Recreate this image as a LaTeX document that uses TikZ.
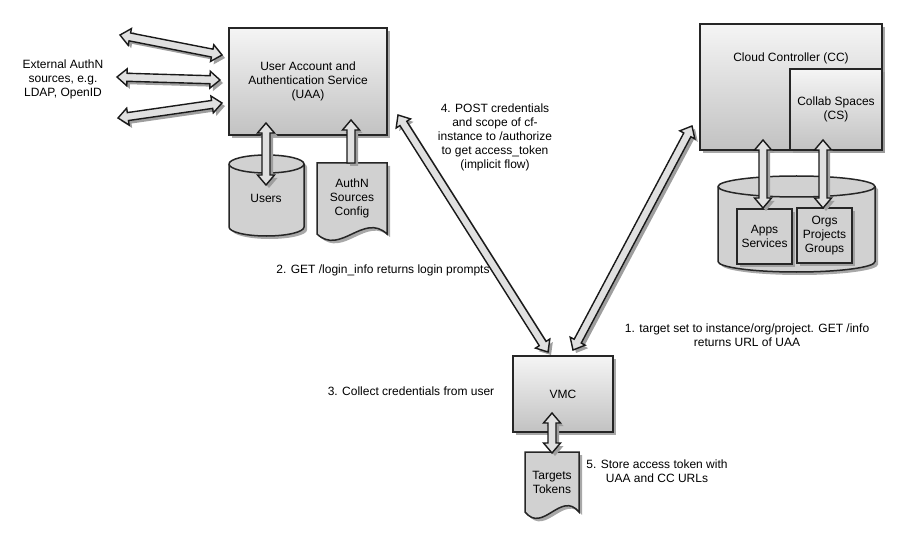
\documentclass[tikz,border=0pt]{standalone}
\usepackage{fontspec}
\setmainfont{Liberation Sans}
\usetikzlibrary{calc,shadows}

\newcommand\arHL{10pt}
\newcommand\arHW{8.5pt}
\newcommand\arSW{4pt}

% double-headed block arrow polygon: style, from, to, offset
\newcommand\dblpoly[4]{%
  \path[#1] let \p1=($(#3)-(#2)$), \n1={atan2(\y1,\x1)}, \p2=($(#2)+#4$), \p3=($(#3)+#4$) in
    (\p2) -- ($(\p2)+(\n1:\arHL)+(\n1+90:\arHW)$) -- ($(\p2)+(\n1:\arHL)+(\n1+90:\arSW)$)
    -- ($(\p3)+(\n1+180:\arHL)+(\n1+90:\arSW)$) -- ($(\p3)+(\n1+180:\arHL)+(\n1+90:\arHW)$) -- (\p3)
    -- ($(\p3)+(\n1+180:\arHL)+(\n1-90:\arHW)$) -- ($(\p3)+(\n1+180:\arHL)+(\n1-90:\arSW)$)
    -- ($(\p2)+(\n1:\arHL)+(\n1-90:\arSW)$) -- ($(\p2)+(\n1:\arHL)+(\n1-90:\arHW)$) -- cycle;}
% single-headed block arrow polygon: tip at #3
\newcommand\sglpoly[4]{%
  \path[#1] let \p1=($(#3)-(#2)$), \n1={atan2(\y1,\x1)}, \p2=($(#2)+#4$), \p3=($(#3)+#4$) in
    ($(\p2)+(\n1+90:\arSW)$)
    -- ($(\p3)+(\n1+180:\arHL)+(\n1+90:\arSW)$) -- ($(\p3)+(\n1+180:\arHL)+(\n1+90:\arHW)$) -- (\p3)
    -- ($(\p3)+(\n1+180:\arHL)+(\n1-90:\arHW)$) -- ($(\p3)+(\n1+180:\arHL)+(\n1-90:\arSW)$)
    -- ($(\p2)+(\n1-90:\arSW)$) -- cycle;}
\newcommand\dblarrow[2]{\dblpoly{ashadow}{#1}{#2}{(3pt,-3pt)}\dblpoly{abody}{#1}{#2}{(0pt,0pt)}}
\newcommand\sglarrow[2]{\sglpoly{ashadow}{#1}{#2}{(3pt,-3pt)}\sglpoly{abody}{#1}{#2}{(0pt,0pt)}}

\tikzset{
  myshadow/.style={drop shadow={shadow xshift=3pt, shadow yshift=-3pt, fill=black!40, opacity=0.85}},
  box/.style={draw=black!85, line width=1.5pt, top color=black!4, bottom color=black!24,
    myshadow, inner sep=0pt, align=center},
  flatbox/.style={draw=black!85, line width=1.5pt, fill=black!18, myshadow, inner sep=0pt, align=center},
  shapefill/.style={draw=black!85, line width=1.5pt, fill=black!18, myshadow},
  shapeline/.style={draw=black!85, line width=1.5pt},
  txt/.style={align=center, inner sep=0pt},
  abody/.style={draw=black!90, line width=1.4pt, fill=black!12, line join=miter},
  ashadow/.style={fill=black!38},
}

\begin{document}
\begin{tikzpicture}[x=1pt,y=-1pt, font=\fontsize{12}{14}\selectfont]
\useasboundingbox (0,0) rectangle (901,537);

% ---------- UAA side ----------
\node[box, minimum width=158pt, minimum height=107pt] (uaa) at (308,81.5)
  {User Account and\\Authentication Service\\(UAA)};

% Users cylinder
\path[shapefill] (229,164) -- (229,227) arc[start angle=180,end angle=0,x radius=37.5,y radius=9]
  -- (304,164) arc[start angle=0,end angle=-180,x radius=37.5,y radius=9] -- cycle;
\path[shapeline] (229,164) arc[start angle=180,end angle=0,x radius=37.5,y radius=9];
\node[txt] (users) at (266,198) {Users};

% AuthN Sources Config document
\path[shapefill] (317,163) -- (387,163) -- (387,234)
  .. controls (363.7,212) and (340.3,256) .. (317,234) -- cycle;
\node[txt] (authn) at (352,198) {AuthN\\Sources\\Config};

\node[txt] (ext) at (63,79) {External AuthN\\sources, e.g.\\LDAP, OpenID};

% ---------- CC side ----------
\node[box, minimum width=182pt, minimum height=126pt] (cc) at (791,87) {};
\node[txt] (cctxt) at (791,58) {Cloud Controller (CC)};
\node[box, minimum width=92pt, minimum height=81pt] (cs) at (836,109.5) {Collab Spaces\\(CS)};

% data cylinder
\path[shapefill] (718,186.5) -- (718,261.5) arc[start angle=180,end angle=0,x radius=78.5,y radius=10.5]
  -- (875,186.5) arc[start angle=0,end angle=-180,x radius=78.5,y radius=10.5] -- cycle;
\path[shapeline] (718,186.5) arc[start angle=180,end angle=0,x radius=78.5,y radius=10.5];

\node[flatbox, minimum width=55pt, minimum height=55pt] (apps) at (764.5,236.5) {Apps\\Services};
\node[flatbox, minimum width=55pt, minimum height=55pt] (orgs) at (824.5,235.5) {Orgs\\Projects\\Groups};

% ---------- VMC ----------
\node[box, minimum width=100pt, minimum height=76pt] (vmc) at (563,394) {VMC};
\path[shapefill] (525,452) -- (579,452) -- (579,512)
  .. controls (561,490) and (543,534) .. (525,512) -- cycle;
\node[txt] (targets) at (552,482) {Targets\\Tokens};

% ---------- labels ----------
\node[txt] (t4) at (495,137) {4. POST credentials\\and scope of cf-\\instance to /authorize\\to get access\_token\\(implicit flow)};
\node[txt] (t2) at (383,270) {2. GET /login\_info returns login prompts};
\node[txt] (t1) at (747,335) {1. target set to instance/org/project. GET /info\\returns URL of UAA};
\node[txt] (t3) at (411,391) {3. Collect credentials from user};
\node[txt] (t5) at (657,471) {5. Store access token with\\UAA and CC URLs};

% ---------- arrow end points ----------
\coordinate (e1a) at (120,35);  \coordinate (e1b) at (222,55);
\coordinate (e2a) at (117,77);  \coordinate (e2b) at (220,80);
\coordinate (e3a) at (118,118); \coordinate (e3b) at (222,103);
\coordinate (ua) at (266,123);  \coordinate (ub) at (266,185);
\coordinate (aa) at (351,163);  \coordinate (ab) at (351,120);
\coordinate (v1a) at (398,115); \coordinate (v1b) at (548,352);
\coordinate (v2a) at (692,126); \coordinate (v2b) at (573,350);
\coordinate (pa) at (763,140);  \coordinate (pb) at (763,208);
\coordinate (oa) at (823,140);  \coordinate (ob) at (823,208);
\coordinate (ta) at (552,413);  \coordinate (tb) at (552,453);

% ---------- arrows ----------
\dblarrow{e1a}{e1b}
\dblarrow{e2a}{e2b}
\dblarrow{e3a}{e3b}
\dblarrow{ua}{ub}
\sglarrow{aa}{ab}
\dblarrow{v1a}{v1b}
\dblarrow{v2a}{v2b}
\dblarrow{pa}{pb}
\dblarrow{oa}{ob}
\dblarrow{ta}{tb}
\end{tikzpicture}
\end{document}
